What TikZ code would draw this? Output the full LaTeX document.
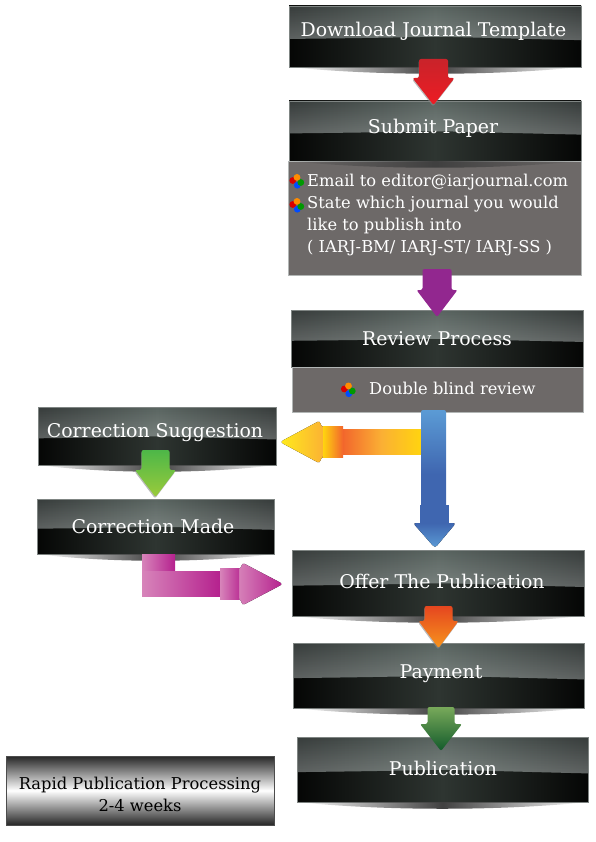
\documentclass[tikz,border=0pt]{standalone}
\usepackage{fontspec}
\setmainfont{DejaVu Serif}
\usetikzlibrary{calc,fadings,shadows}
\definecolor{glossmid}{HTML}{5A6561}
\definecolor{glossdark}{HTML}{373C3B}
\definecolor{lowmid}{HTML}{2E3531}
\definecolor{lowdark}{HTML}{050605}
\definecolor{panelgrey}{HTML}{6D6968}
\definecolor{edgegrey}{HTML}{7F8583}
\definecolor{redtop}{HTML}{C9232A}
\definecolor{redlow}{HTML}{ED1C24}
\definecolor{plum}{HTML}{92278F}
\definecolor{greentop}{HTML}{4DB748}
\definecolor{greenlow}{HTML}{9BCB3B}
\definecolor{burnt}{HTML}{E5461F}
\definecolor{amber}{HTML}{F7941D}
\definecolor{mosstop}{HTML}{78A95A}
\definecolor{mosslow}{HTML}{125A2B}
\definecolor{yelred}{HTML}{F2652C}
\definecolor{yelmid}{HTML}{FBB034}
\definecolor{yellight}{HTML}{FFD40F}
\definecolor{yeltop}{HTML}{FFEB1C}
\definecolor{bluelight}{HTML}{5B9BD5}
\definecolor{bluedark}{HTML}{3F66B0}
\definecolor{maglight}{HTML}{D784BA}
\definecolor{magdark}{HTML}{B5218E}
\tikzfading[name=lensfade,left color=transparent!100,right color=transparent!100,middle color=transparent!0]
\newcommand{\glossfill}{%
  \coordinate (nw) at (path picture bounding box.north west);
  \coordinate (ne) at (path picture bounding box.north east);
  \coordinate (sw) at (path picture bounding box.south west);
  \coordinate (se) at (path picture bounding box.south east);
  \fill[left color=lowdark,right color=lowdark,middle color=lowmid] (sw) rectangle (ne);
  \path[left color=glossdark,right color=glossdark,middle color=glossmid]
    (nw) -- (ne) -- ($(ne)!.56!(se)$)
    .. controls ($.38*(nw)+.14*(ne)+.36*(sw)+.12*(se)$) and ($.12*(nw)+.38*(ne)+.12*(sw)+.38*(se)$)
    .. ($(nw)!.54!(sw)$) -- cycle;
  \fill[white,fill opacity=.2,path fading=north]
    (nw) -- (ne) -- ($(ne)!.56!(se)$)
    .. controls ($.38*(nw)+.14*(ne)+.36*(sw)+.12*(se)$) and ($.12*(nw)+.38*(ne)+.12*(sw)+.38*(se)$)
    .. ($(nw)!.54!(sw)$) -- cycle;}

\begin{document}
\begin{tikzpicture}[x=1pt,y=-1pt,
  gloss/.style={draw=edgegrey,fill=glossdark,line width=.6pt,outer sep=0pt,path picture={\glossfill}},
  panel/.style={draw=edgegrey!60,line width=.6pt,fill=panelgrey,outer sep=0pt},
  lbl/.style={text=white,inner sep=0pt,font=\fontsize{18.9}{22}\selectfont},
  small/.style={text=white,inner sep=0pt,align=left,font=\fontsize{16.3}{22}\selectfont},
  blockdown/.style 2 args={rounded corners=2pt,
    to path={let \p1=(\tikztostart),\p2=(\tikztotarget) in
      (\x2-#1,\y1) -- (\x2+#1,\y1) -- (\x2+#1,\y2+27pt) -- (\x2+#2,\y2+27pt)
      -- (\x2,\y2) -- (\x2-#2,\y2+27pt) -- (\x2-#1,\y2+27pt) -- cycle}},
  tipshadow/.style={drop shadow={shadow xshift=-.5pt,shadow yshift=-1.5pt,fill=black!45,opacity=.6}},
  cubes/.pic={
    \fill[red!85!black] (-4.2,-.5) circle (3.4);
    \fill[blue!70!cyan] (.3,4.2) circle (3.4);
    \fill[green!60!black] (3.8,1.5) circle (3.4);
    \fill[orange!90!yellow] (0,-3.6) circle (3.4);}]
  \useasboundingbox (0,0) rectangle (595,842);
  % ---------- right column ----------
  \node[gloss,minimum width=292,minimum height=61] (dl) at (435,36.5) {};
  \node[gloss,minimum width=292,minimum height=60] (sub) at (435,131) {};
  \node[panel,minimum width=293,minimum height=114] (subnote) at (434.5,218) {};
  \node[gloss,minimum width=292,minimum height=57] (rev) at (437,338.5) {};
  \node[panel,minimum width=291,minimum height=45] (revnote) at (437.5,389.5) {};
  \node[gloss,minimum width=292,minimum height=66] (offer) at (438,583) {};
  \node[gloss,minimum width=291,minimum height=65] (pay) at (438.5,675.5) {};
  \node[gloss,minimum width=291,minimum height=65] (pub) at (442.5,769.5) {};
  % ---------- left column ----------
  \node[gloss,minimum width=238,minimum height=58] (sug) at (157,436) {};
  \node[gloss,minimum width=237,minimum height=55] (made) at (155.5,526.5) {};
  \node[draw=black!70,line width=.5pt,outer sep=0pt,minimum width=268,minimum height=69,
    top color=black!85,bottom color=black!85,middle color=white] (rapid) at (140,790.5) {};
  % ---------- shadows under the boxes ----------
  \foreach \boxname in {dl,sub,offer,pay,pub,sug,made}
    \fill[black!75,path fading=lensfade] (\boxname.south west)
      .. controls ([yshift=-9pt]$(\boxname.south west)!.3!(\boxname.south east)$)
      and ([yshift=-9pt]$(\boxname.south west)!.7!(\boxname.south east)$) .. (\boxname.south east) -- cycle;
  % ---------- labels ----------
  \node[lbl] (dltxt) at (433.5,31) {Download Journal Template};
  \node[lbl] (subtxt) at (433,128) {Submit Paper};
  \node[lbl] (revtxt) at (437,339) {Review Process};
  \node[lbl] (sugtxt) at (155,433) {Correction Suggestion};
  \node[lbl] (madetxt) at (153,526) {Correction Made};
  \node[lbl] (offertxt) at (442,581) {Offer The Publication};
  \node[lbl] (paytxt) at (441,674) {Payment};
  \node[lbl] (pubtxt) at (443,768) {Publication};
  \node[small,anchor=west] (subitems) at (307,215) {Email to editor@iarjournal.com\\State which journal you would\\like to publish into\\( IARJ-BM/ IARJ-ST/ IARJ-SS )};
  \node[small,anchor=west] (revitem) at (369,388) {Double blind review};
  \node[inner sep=0pt,align=center,text=black,font=\fontsize{16.3}{22}\selectfont] (rapidtxt) at (140,794) {Rapid Publication Processing\\2-4 weeks};
  \pic at ([xshift=9pt,yshift=-20pt]subnote.north west) {cubes};
  \pic at ([xshift=9pt,yshift=-44pt]subnote.north west) {cubes};
  \pic at ([xshift=-89pt]revnote.center) {cubes};
  % ---------- straight arrows ----------
  \path[blockdown={14.5pt}{21pt},tipshadow,top color=redtop,bottom color=redlow]
    ([yshift=8pt]dl.south) to ([xshift=-1.5pt,yshift=-4pt]sub.north);
  \path[blockdown={14.5pt}{20.5pt},fill=plum]
    ([yshift=6pt]subnote.south) to ([yshift=-7pt]rev.north);
  \path[blockdown={14pt}{20.5pt},tipshadow,top color=greentop,bottom color=greenlow]
    ([yshift=15pt]sug.south) to ([yshift=2pt]made.north);
  \path[blockdown={14pt}{20pt},tipshadow,top color=burnt,bottom color=amber]
    ([yshift=10pt]offer.south) to ([yshift=-5pt]pay.north);
  \path[blockdown={13.5pt}{21pt},top color=mosstop,bottom color=mosslow]
    ([xshift=2pt,yshift=1pt]pay.south) to ([xshift=-1.5pt,yshift=-14pt]pub.north);
  % ---------- yellow arrow to the left ----------
  \coordinate (yeltip) at ([xshift=4pt,yshift=-6pt]sug.east);
  \coordinate (yelend) at ([xshift=-16.5pt]revnote.south);
  \fill[left color=yelred,right color=yellight,middle color=yelmid]
    ([xshift=62pt,yshift=12.5pt]yeltip) rectangle ([yshift=-12.5pt]yeltip -| yelend);
  \fill[rounded corners=3pt,left color=yeltop,right color=yelmid]
    (yeltip) -- ([xshift=40pt,yshift=21.5pt]yeltip) -- ([xshift=41pt,yshift=15pt]yeltip) -- ([xshift=45pt,yshift=15pt]yeltip)
    -- ([xshift=45pt,yshift=-15pt]yeltip) -- ([xshift=41pt,yshift=-15pt]yeltip) -- ([xshift=40pt,yshift=-21.5pt]yeltip) -- cycle;
  \fill[left color=yellight,right color=yelred]
    ([xshift=43pt,yshift=15.5pt]yeltip) rectangle ([xshift=63pt,yshift=-15.5pt]yeltip);
  % ---------- blue arrow down ----------
  \coordinate (bluetip) at ([xshift=-3pt,yshift=2pt]offer.north);
  \path[blockdown={12.5pt}{12.5pt},top color=bluelight,bottom color=bluedark,middle color=bluedark]
    ([yshift=2pt]revnote.south) to ([xshift=-1.5pt,yshift=10pt]bluetip);
  \fill[bluedark] ([xshift=-15pt,yshift=43pt]bluetip) rectangle ([xshift=14pt,yshift=24pt]bluetip);
  \fill[rounded corners=3pt,top color=bluedark,bottom color=bluelight]
    (bluetip) -- ([xshift=-22pt,yshift=25pt]bluetip) -- ([xshift=21pt,yshift=25pt]bluetip) -- cycle;
  % ---------- magenta arrow to the right ----------
  \coordinate (magstart) at ([xshift=-13.5pt]made.south);
  \coordinate (magtip) at ([xshift=-9pt,yshift=-1pt]offer.west);
  \fill[left color=maglight,right color=magdark] (magstart) rectangle ++(33,17);
  \fill[left color=maglight,right color=magdark] ([yshift=-17pt]magstart) rectangle ++(78,25);
  \fill[rounded corners=3pt,left color=maglight,right color=magdark]
    (magtip) -- ([xshift=-41pt,yshift=21.5pt]magtip) -- ([xshift=-42pt,yshift=15pt]magtip) -- ([xshift=-46pt,yshift=15pt]magtip)
    -- ([xshift=-46pt,yshift=-15pt]magtip) -- ([xshift=-42pt,yshift=-15pt]magtip) -- ([xshift=-41pt,yshift=-21.5pt]magtip) -- cycle;
  \fill[left color=maglight,right color=magdark!80!maglight]
    ([xshift=-63pt,yshift=15.5pt]magtip) rectangle ([xshift=-44pt,yshift=-15.5pt]magtip);
\end{tikzpicture}
\end{document}
